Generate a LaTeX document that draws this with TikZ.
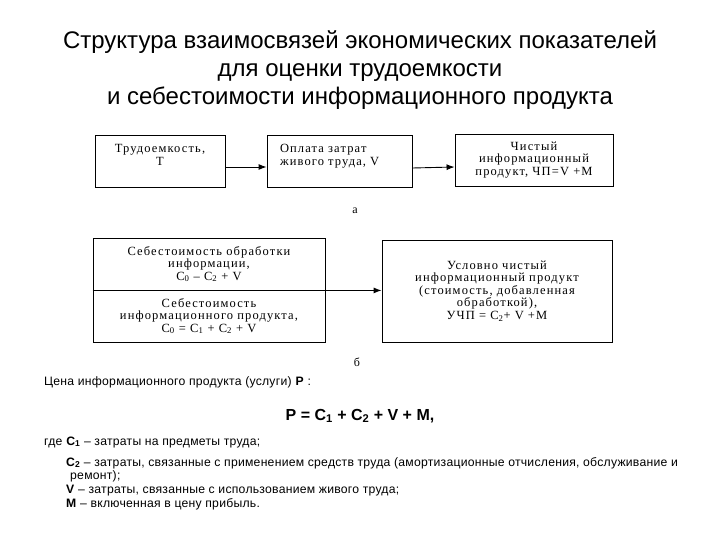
\documentclass[tikz,border=0pt]{standalone}
\usepackage{fontspec}
\setmainfont{Liberation Sans}
\newfontfamily\boxfont[LetterSpace=9]{Liberation Serif}
\newfontfamily\notefont[LetterSpace=2]{Liberation Sans}
\usetikzlibrary{shapes, arrows, arrows.meta, positioning, calc}

\begin{document}
\begin{tikzpicture}[x=1pt, y=-1pt]
  \tikzstyle{box} = [draw, rectangle, line width=0.9pt, align=center, inner xsep=0pt, inner ysep=2pt, font=\boxfont\fontsize{12.5}{12.5}\selectfont]
  \tikzstyle{note} = [anchor=base west, inner sep=0pt, font=\notefont\fontsize{12.2}{13}\selectfont]
  \tikzstyle{flow} = [-{Latex[length=8pt, width=6pt]}, line width=0.9pt]

  \useasboundingbox (0,0) rectangle (720,540);

  \node[align=center, font=\fontsize{24}{28}\selectfont] (title) at (360,70) {Структура взаимосвязей экономических показателей\\для оценки трудоемкости\\и себестоимости информационного продукта};

  % схема а
  \node[box, minimum width=130pt, text width=130pt, minimum height=52pt] (trud) at (160,161) {Трудоемкость,\\Т\\ \mbox{}};
  \node[box, align=left, minimum width=145pt, text width=119pt, minimum height=52pt] (oplata) at (339.5,161) {Оплата затрат\\живого труда, V\\ \mbox{}};
  \node[box, minimum width=158pt, text width=158pt, minimum height=52pt] (chistyj) at (534,160) {Чистый\\информационный\\продукт, ЧП=V +М};
  \node[font=\boxfont\fontsize{12}{12}\selectfont] (lbla) at (355,211) {а};

  \draw[flow] ([yshift=-6pt]trud.east) -- ([yshift=-6pt]oplata.west);
  \draw[flow] ([yshift=-7pt]oplata.east) -- ([yshift=-7pt]chistyj.west);

  % схема б
  \node[box, minimum width=232pt, text width=232pt, minimum height=52pt] (sebobr) at (209,264) {Себестоимость обработки\\информации,\\C\textsubscript{0} \textendash{} C\textsubscript{2} + V};
  \node[box, minimum width=232pt, text width=232pt, minimum height=52pt] (sebprod) at (209,316) {Себестоимость\\информационного продукта,\\C\textsubscript{0} = C\textsubscript{1} + C\textsubscript{2} + V};
  \node[box, minimum width=230pt, text width=230pt, minimum height=102pt] (uchp) at (497,291) {Условно чистый\\информационный продукт\\(стоимость, добавленная\\обработкой),\\УЧП = C\textsubscript{2}+ V +М};
  \node[font=\boxfont\fontsize{12}{12}\selectfont] (lblb) at (357,362) {б};

  \draw[flow] (sebobr.south west) -- (sebobr.south west -| uchp.west);

  % цена
  \node[note] (cena) at (44,385) {Цена информационного продукта (услуги) \textbf{P} :};
  \node[font=\bfseries\fontsize{16}{18}\selectfont] (formula) at (360,416) {P = C\textsubscript{1} + C\textsubscript{2} + V + M,};

  \node[note] (gde) at (44,445) {где \textbf{C\textsubscript{1}} \textendash{} затраты на предметы труда;};
  \node[note] (cdva) at (66,466) {\textbf{C\textsubscript{2}} \textendash{} затраты, связанные с применением средств труда (амортизационные отчисления, обслуживание и};
  \node[note] (remont) at (70,479.5) {ремонт);};
  \node[note] (vzhiv) at (66,493) {\textbf{V} \textendash{} затраты, связанные с использованием живого труда;};
  \node[note] (mprib) at (66,507.5) {\textbf{M} \textendash{} включенная в цену прибыль.};
\end{tikzpicture}
\end{document}
